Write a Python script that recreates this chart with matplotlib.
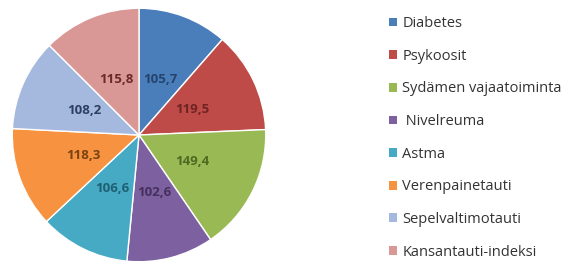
import matplotlib.pyplot as plt
from matplotlib.patches import Patch

plt.rcParams['font.family'] = ['Open Sans', 'DejaVu Sans']

sairaudet = ['Diabetes', 'Psykoosit', 'Sydämen vajaatoiminta', ' Nivelreuma',
             'Astma', 'Verenpainetauti', 'Sepelvaltimotauti', 'Kansantauti-indeksi']
arvot = [105.7, 119.5, 149.4, 102.6, 106.6, 118.3, 108.2, 115.8]

varit = ['#4a7ebb', '#be4b48', '#98b954', '#7d60a0', '#46aac5', '#f69240',
         '#a5b8de', '#d99795']
tekstivarit = ['#24446e', '#6e2422', '#4f6a22', '#45305e', '#1f5f72', '#7a4310',
               '#2e3f62', '#6b2a2a']

fig = plt.figure(figsize=(5.74, 2.64), dpi=100)
W, H = 574, 264
cx, cy, r = 139, 135, 128
ax = fig.add_axes([(cx - r) / W, (H - cy - r) / H, 2 * r / W, 2 * r / H])

wedges, texts, autotexts = ax.pie(
    arvot, colors=varit, startangle=90, counterclock=False,
    autopct='%1.1f', pctdistance=0.47,
    wedgeprops=dict(edgecolor='white', linewidth=1.0))

for t, v, c in zip(autotexts, arvot, tekstivarit):
    t.set_text(f'{v:.1f}'.replace('.', ','))
    t.set_color(c)
    t.set_fontsize(9.5)
    t.set_fontweight('bold')

ax.set_xlim(-1.01, 1.01)
ax.set_ylim(-1.01, 1.01)
ax.set_aspect('equal')

kahvat = [Patch(facecolor=c, edgecolor='none') for c in varit]
fig.legend(kahvat, sairaudet, loc='upper left',
           bbox_to_anchor=(376 / W, 1 - 3 / H), frameon=False,
           fontsize=10.5, labelspacing=1.21, handlelength=0.55, handleheight=0.55,
           handletextpad=0.35, labelcolor='#333333')

fig.savefig('out.png', dpi=100)
